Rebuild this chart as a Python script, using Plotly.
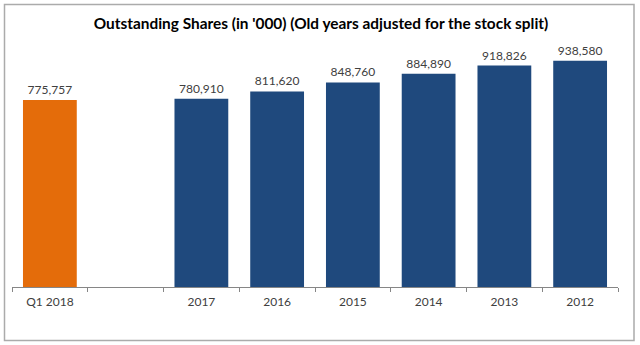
import plotly.graph_objects as go

categories = ["Q1 2018", " ", "2017", "2016", "2015", "2014", "2013", "2012"]
shares = [775757, None, 780910, 811620, 848760, 884890, 918826, 938580]
highlight = "Q1 2018"

bar_colors = ["#E46C0A" if c == highlight else "#1F497D" for c in categories]

fig = go.Figure(
    go.Bar(
        x=categories,
        y=shares,
        marker=dict(color=bar_colors, line=dict(width=0)),
        texttemplate="%{y:,d}",
        textposition="outside",
        textfont=dict(family="Lato", size=12, color="#404040"),
        cliponaxis=False,
        hoverinfo="skip",
    )
)

W, H = 640, 345
ml, mr, mt, mb = 12, 22, 46, 58
pw, ph = W - ml - mr, H - mt - mb

fig.update_layout(
    width=W,
    height=H,
    margin=dict(l=ml, r=mr, t=mt, b=mb, pad=0),
    paper_bgcolor="white",
    plot_bgcolor="white",
    bargap=0.29,
    showlegend=False,
    title=dict(
        text="<b>Outstanding Shares (in '000) (Old years adjusted for the stock split)</b>",
        x=321 / W,
        xanchor="center",
        xref="container",
        y=1 - 24 / H,
        yanchor="middle",
        yref="container",
        font=dict(family="Lato", size=15.4, color="#000000"),
    ),
    xaxis=dict(
        type="category",
        tickson="boundaries",
        ticks="outside",
        ticklen=4,
        tickcolor="#868686",
        showline=True,
        linecolor="#868686",
        linewidth=1,
        showgrid=False,
        tickfont=dict(family="Lato", size=12, color="#404040"),
        ticklabelstandoff=4,
    ),
    yaxis=dict(visible=False, range=[0, 1000000]),
    shapes=[
        dict(
            type="rect",
            xref="paper",
            yref="paper",
            x0=(4.5 - ml) / pw,
            x1=(634 - ml) / pw,
            y0=(H - mb - 340.5) / ph,
            y1=(H - mb - 4.5) / ph,
            line=dict(color="#ABABAB", width=1.5),
            layer="below",
        )
    ],
)

fig.write_html("out.html")
